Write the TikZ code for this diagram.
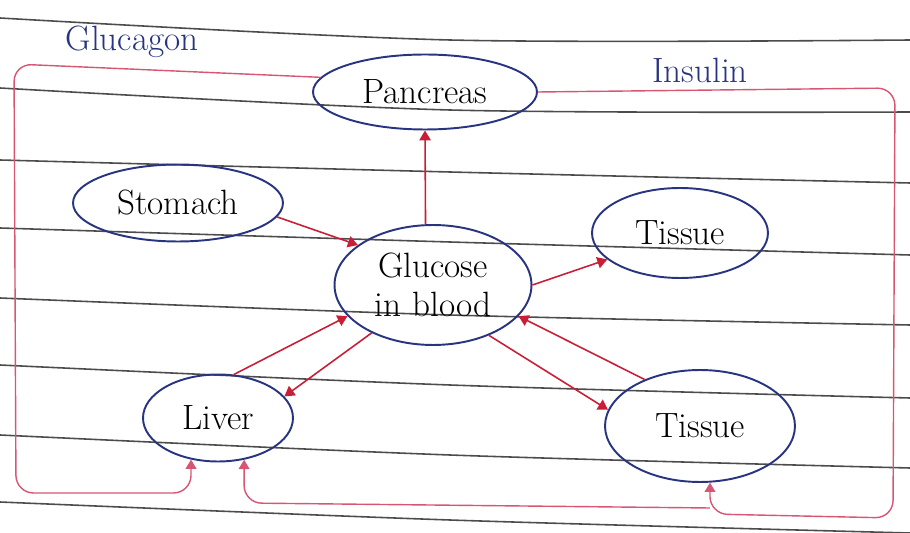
\documentclass[tikz,border=0pt]{standalone}
\usepackage{tikz}
\usetikzlibrary{arrows.meta,shapes.geometric}
\definecolor{inkblue}{RGB}{40,52,128}
\definecolor{inkred}{RGB}{200,30,55}
\definecolor{inkpink}{RGB}{214,86,116}
\tikzset{>/.tip={Triangle[scale=1.1]}}

\begin{document}
\begin{tikzpicture}[x=0.02cm,y=-0.02cm,
  organ/.style={ellipse,draw=inkblue,line width=1.1pt,inner sep=0pt,align=center,
    font=\fontsize{20}{22}\selectfont},
  flow/.style={->,draw=inkred,line width=0.9pt},
  hormone/.style={->,draw=inkpink,line width=0.8pt,rounded corners=10},
  hname/.style={text=inkblue,font=\fontsize{20}{22}\selectfont},
  ruling/.style={draw=black!70,line width=0.9pt}]
\useasboundingbox (0,0) rectangle (910,533);

% paper lines
\foreach \a/\b/\c in {18/40/40,88/110/112,160/172/183,228/242/255,298/315/325,365/385/398,435/455/468,502/520/533}
{
  \draw[ruling] plot[smooth] coordinates {(0,\a) (450,\b) (910,\c)};
}

\node[organ,minimum width=4.48cm,minimum height=1.5cm]  (pancreas) at (425,92)  {Pancreas};
\node[organ,minimum width=4.2cm,minimum height=1.54cm]  (stomach)  at (178,203) {Stomach};
\node[organ,minimum width=3.94cm,minimum height=2.4cm]  (glucose)  at (433,285) {Glucose\\in blood};
\node[organ,minimum width=3.52cm,minimum height=1.8cm]  (tissue1)  at (680,233) {Tissue};
\node[organ,minimum width=3cm,minimum height=1.74cm]    (liver)    at (218,418) {Liver};
\node[organ,minimum width=3.8cm,minimum height=2.24cm]  (tissue2)  at (700,426) {Tissue};

\node[hname] (glucagon) at (132,42) {Glucagon};
\node[hname] (insulin)  at (700,70) {Insulin};

\draw[flow] (glucose.97) to (pancreas.south);
\draw[flow] (stomach.-8) to (glucose.152);
\draw[flow] (glucose.0) to (tissue1.200);
\draw[flow] (liver.70) to (glucose.200);
\draw[flow] (glucose.218) to (liver.18);
\draw[flow] (glucose.-42) to (tissue2.170);
\draw[flow] (tissue2.140) to (glucose.-20);

\draw[hormone] (pancreas.172) -- (14,64) -- (16,493) -- (liver.237 |- 0,493) -- (liver.237);
\draw[hormone] (pancreas.east) -- (895,88) -- (893,518) -- (tissue2.280 |- 0,514) -- (tissue2.280);
\draw[hormone] (tissue2.280 |- 0,508) -- (liver.302 |- 0,503) -- (liver.302);
\end{tikzpicture}
\end{document}
